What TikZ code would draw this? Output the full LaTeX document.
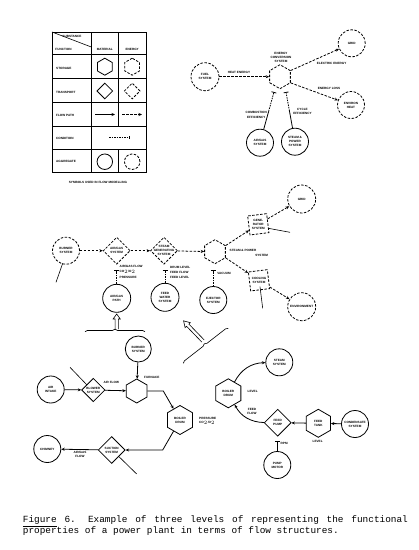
\documentclass[tikz,border=0pt]{standalone}
\usepackage{fontspec}
\setsansfont{Liberation Sans}
\setmonofont{Liberation Mono}
\usetikzlibrary{shapes.geometric, arrows.meta, decorations.pathreplacing, calc, positioning}
\tikzstyle{lbl} = [font=\sffamily\bfseries\fontsize{3.1}{4}\selectfont, align=center, inner sep=0pt]
\tikzstyle{mat} = [draw, line width=0.8pt]
\tikzstyle{nrg} = [draw, line width=0.8pt, dash pattern=on 2.5pt off 1.5pt]
\tikzstyle{agg} = [lbl, circle, inner sep=0pt, minimum size=27pt]
\tikzstyle{stor} = [lbl, regular polygon, regular polygon sides=6, shape border rotate=30, inner sep=0pt, minimum size=24pt]
\tikzstyle{trans} = [diamond, inner sep=0pt, minimum width=27pt, minimum height=27pt]
\tikzstyle{tilt} = [regular polygon, regular polygon sides=4, shape border rotate=7, inner sep=0pt, minimum size=27pt]
\tikzstyle{arrow} = [line width=0.8pt, -{Stealth[length=3.5pt, width=3pt]}]
\tikzstyle{earrow} = [arrow, dash pattern=on 2.5pt off 1.5pt]
\tikzstyle{cond} = [line width=0.8pt, -{Bar[width=5pt]}]
\tikzstyle{econd} = [cond, dash pattern=on 1.5pt off 1pt]
\tikzstyle{pointer} = [line width=0.6pt]
\tikzstyle{hollow} = [line width=0.6pt, line join=miter]
\tikzstyle{cbrace} = [line width=0.6pt, decorate, decoration={brace, amplitude=2.5pt}]
\tikzstyle{caption} = [anchor=base west, inner sep=0pt, font=\ttfamily\fontsize{9.4}{11}\selectfont]

\begin{document}
\begin{tikzpicture}[x=1pt, y=1pt]
\useasboundingbox [fill=white] (0,0) rectangle (419,-550);

\draw [line width=0.8pt] (52,-32) rectangle (146,-172);
\draw [line width=0.7pt] (91.3,-32) -- (91.3,-172) (118.3,-32) -- (118.3,-126) (118.3,-149.3) -- (118.3,-172);
\draw [line width=0.7pt] (52,-54.3) -- (146,-54.3) (52,-78.3) -- (146,-78.3) (52,-102) -- (146,-102) (52,-126) -- (146,-126) (52,-149.3) -- (146,-149.3);
\draw [line width=0.6pt] (52,-32) -- (91.3,-47);

\node (hsub) [lbl] at (72,-36.5) {SUBSTANCE};
\node (hfun) [lbl] at (63.5,-49) {FUNCTION};
\node (hmat) [lbl] at (104.8,-49) {MATERIAL};
\node (hnrg) [lbl] at (132.2,-49) {ENERGY};
\node (rsto) [lbl, anchor=west] at (56,-68.3) {STORAGE};
\node (rtra) [lbl, anchor=west] at (56,-92) {TRANSPORT};
\node (rflo) [lbl, anchor=west] at (56,-115) {FLOW PATH};
\node (rcon) [lbl, anchor=west] at (56,-138.3) {CONDITION};
\node (ragg) [lbl, anchor=west] at (56,-161.7) {AGGREGATE};

\node (sym1) [stor, mat, minimum size=17pt] at (104.8,-66.7) {};
\node (sym2) [stor, nrg, minimum size=17pt] at (132.2,-66.7) {};
\node (sym3) [trans, mat, minimum width=16pt, minimum height=16pt] at (104.8,-91) {};
\node (sym4) [trans, nrg, minimum width=16pt, minimum height=16pt] at (132.2,-91) {};
\coordinate (fa1) at (95,-114.5);
\coordinate (fa2) at (115,-114.5);
\coordinate (fb1) at (122,-114.5);
\coordinate (fb2) at (142,-114.5);
\coordinate (ca1) at (109,-137.3);
\coordinate (ca2) at (130,-137.3);
\node (sym5) [agg, mat, minimum size=15.5pt] at (104.8,-161.7) {};
\node (sym6) [agg, nrg, minimum size=15.5pt] at (132.2,-161.7) {};
\node (tcap) [lbl] at (98,-182.7) {SYMBOLS USED IN FLOW MODELLING};

\draw [arrow] (fa1) -- (fa2);
\draw [earrow] (fb1) -- (fb2);
\draw [econd, -{Bar[width=3pt]}] (ca1) -- (ca2);

\node (ecs) [stor, nrg] at (280,-76.7) {};
\node (ecslbl) [lbl] at (281,-57.5) {ENERGY\\CONVERSION\\SYSTEM};
\node (fuel) [agg, nrg, minimum size=28pt] at (205,-76.7) {FUEL\\SYSTEM};
\node (grid1) [agg, nrg] at (351.7,-43.3) {GRID};
\node (env1) [agg, nrg] at (351,-105) {ENVIRON\\HEAT};
\node (ags1) [agg, mat] at (260,-142.7) {AIR/GAS\\SYSTEM};
\node (sps1) [agg, mat] at (295,-141.7) {STEAM \&\\POWER\\SYSTEM};
\node (heat) [lbl] at (239,-72) {HEAT ENERGY};
\node (elec) [lbl] at (331.7,-63.3) {ELECTRIC ENERGY};
\node (loss) [lbl] at (329,-88.3) {ENERGY LOSS};
\node (ceff) [lbl] at (256.3,-115.3) {COMBUSTION\\[1pt]EFFICIENCY};
\node (yeff) [lbl] at (302.5,-111.3) {CYCLE\\EFFICIENCY};
\coordinate (cb1) at (274,-92);
\coordinate (cb2) at (286,-92);
\coordinate (cm1) at ($(ags1)!0.62!(cb1)$);
\coordinate (cm2) at ($(sps1)!0.62!(cb2)$);

\draw [earrow] (fuel) -- (ecs);
\draw [earrow] (ecs.30) -- (grid1);
\draw [earrow] (ecs.-30) -- (env1);
\draw [cond, -] (ags1) -- (cm1);
\draw [econd] (cm1) -- (cb1);
\draw [cond, -] (sps1) -- (cm2);
\draw [econd] (cm2) -- (cb2);

\node (brn2) [agg, nrg] at (66,-250.7) {BURNER\\SYSTEM};
\node (ags2) [trans, nrg, label={[lbl]center:{AIR/GAS\\SYSTEM}}] at (116.7,-250.7) {};
\node (sgs) [trans, nrg, label={[lbl]center:{STEAM\\GENERATING\\SYSTEM}}] at (164,-250.7) {};
\node (sps2) [stor, nrg] at (215,-251.7) {};
\node (splbl) [lbl] at (243,-250) {STEAM \& POWER};
\node (splbl2) [lbl] at (261.7,-255) {SYSTEM};
\node (gen) [tilt, nrg, label={[lbl]center:{GENE-\\RATOR\\SYSTEM}}] at (258.3,-224.3) {};
\node (grid2) [agg, nrg, minimum size=28pt] at (301.7,-199) {GRID};
\node (cool) [tilt, nrg, label={[lbl]center:{COOLING\\SYSTEM}}] at (259,-280.3) {};
\node (env2) [agg, nrg, minimum size=28pt] at (301.7,-306.7) {ENVIRONMENT};
\node (ejc) [agg, mat] at (213.3,-300) {EJECTOR\\SYSTEM};
\node (fws) [agg, mat, minimum size=28pt] at (165,-297.3) {FEED\\WATER\\SYSTEM};
\node (agp) [agg, mat, minimum size=28pt] at (116.7,-298.3) {AIR/GAS\\PATH};
\node (vac) [lbl] at (224,-273.7) {VACUUM};
\node (agcnd) [lbl, anchor=north west, align=left] at (119.5,-264.8) {AIR/GAS FLOW\\[1pt]CO$_2$/O$_2$\\[2.5pt]PRESSURE};
\node (fwcnd) [lbl, anchor=north west, align=left] at (170,-265.8) {DRUM LEVEL\\[1pt]FEED FLOW\\[1pt]FEED LEVEL};
\coordinate (tb1) at (116.7,-270);
\coordinate (tb2) at (165,-270);
\coordinate (tb3) at (213.3,-270);
\coordinate (pa1) at (62.7,-263.3);
\coordinate (pa2) at (56,-282.3);
\coordinate (pg1) at (268.3,-228.3);
\coordinate (pg2) at (290,-232.3);
\coordinate (pc1) at (260,-286.7);
\coordinate (pc2) at (262.7,-308.3);
\coordinate (br1a) at (85,-331.7);
\coordinate (br1b) at (145,-331.7);
\coordinate (br2a) at (183.3,-363.3);
\coordinate (br2b) at (228.3,-328.3);

\draw [earrow] (brn2) -- (ags2);
\draw [earrow] (ags2) -- (sgs);
\draw [earrow] (sgs) -- (sps2);
\draw [earrow] (sps2.30) -- (gen);
\draw [earrow] (gen) -- (grid2);
\draw [earrow] (sps2.-30) -- (cool);
\draw [earrow] (cool) -- (env2);
\draw [econd] (agp) -- (tb1);
\draw [econd] (fws) -- (tb2);
\draw [econd] (ejc) -- (tb3);
\draw [pointer] (pa1) -- (pa2);
\draw [pointer] (pg1) -- (pg2);
\draw [pointer] (pc1) -- (pc2);
\draw [cbrace] (br1a) -- (br1b);
\draw [cbrace] (br2a) -- (br2b);
\draw [hollow, shift={(116.7,-329)}, rotate=90] (0,-1.6) -- (10,-1.6) -- (10,-3.6) -- (15,0) -- (10,3.6) -- (10,1.6) -- (0,1.6);
\draw [hollow, shift={(203,-341)}, rotate=134] (0,-1.6) -- (22,-1.6) -- (22,-3.6) -- (28,0) -- (22,3.6) -- (22,1.6) -- (0,1.6);

\node (brn3) [agg, mat, minimum size=26pt] at (138.3,-349) {BURNER\\SYSTEM};
\node (fur) [stor, mat] at (136.7,-391) {};
\node (furlbl) [lbl, anchor=west] at (144,-377.3) {FURNACE};
\node (air) [agg, mat] at (50.7,-389.5) {AIR\\INTAKE};
\node (blw) [trans, mat, minimum width=23.5pt, minimum height=23.5pt, label={[lbl]center:{BLOWER\\SYSTEM}}] at (93.3,-390) {};
\node (aflow) [lbl] at (111.3,-382.7) {AIR FLOW};
\node (bd1) [stor, mat, minimum size=29pt] at (180,-420) {BOILER\\DRUM};
\node (prs) [lbl, anchor=west, align=left] at (199,-420.8) {PRESSURE\\CO$_2$/O$_2$};
\node (sct) [trans, mat, label={[lbl]center:{SUCTION\\SYSTEM}}] at (111.7,-450) {};
\node (chm) [agg, mat] at (47.3,-449) {CHIMNEY};
\node (gflow) [lbl] at (80,-454.7) {AIR/GAS\\FLOW};
\coordinate (k1) at (163.3,-391);
\coordinate (k2) at (162.7,-450);
\coordinate (pb1) at (87,-385);
\coordinate (pb2) at (70,-367.3);
\coordinate (ps1) at (119,-456.7);
\coordinate (ps2) at (136.7,-474);

\draw [arrow] (brn3) -- (fur);
\draw [arrow] (air) -- (blw);
\draw [arrow] (blw) -- (fur);
\draw [arrow] (fur.east) -- (k1) -- (bd1);
\draw [arrow] (bd1) -- (k2) -- (sct);
\draw [arrow] (sct) -- (chm);
\draw [pointer] (pb1) -- (pb2);
\draw [pointer] (ps1) -- (ps2);

\node (stm) [agg, mat] at (279.3,-362.3) {STEAM\\SYSTEM};
\node (bd2) [stor, mat, minimum size=29pt] at (228.3,-393.3) {BOILER\\DRUM};
\node (lev1) [lbl] at (252.7,-391.7) {LEVEL};
\node (fflow) [lbl] at (252,-411.3) {FEED\\FLOW};
\node (fpm) [trans, mat, label={[lbl]center:{FEED\\PUMP}}] at (277.7,-422.7) {};
\node (ftk) [stor, mat, minimum size=28pt] at (318.3,-423.3) {FEED\\TANK};
\node (lev2) [lbl] at (317.7,-441.7) {LEVEL};
\node (cnd) [agg, mat] at (355,-424) {CONDENSATE\\SYSTEM};
\node (rpm) [lbl, anchor=west] at (280.5,-443.3) {RPM};
\node (pmt) [agg, mat] at (277.3,-465) {PUMP\\MOTOR};
\coordinate (tb4) at (277.3,-440.7);

\draw [arrow] (bd2) to[bend left=30] (stm);
\draw [arrow] (fpm) to[bend left=30] (bd2);
\draw [arrow] (ftk) -- (fpm);
\draw [arrow] (cnd) -- (ftk);
\draw [cond] (pmt) -- (tb4);

\node (cap1) [caption] at (22.7,-522.5) {\makebox[385pt][s]{\spaceskip=\fontdimen2\font plus 1fil\relax\underline{Figure} 6. Example of three levels of representing the functional}};
\node (cap2) [caption] at (22.7,-533.5) {properties of a power plant in terms of flow structures.};

\end{tikzpicture}
\end{document}
